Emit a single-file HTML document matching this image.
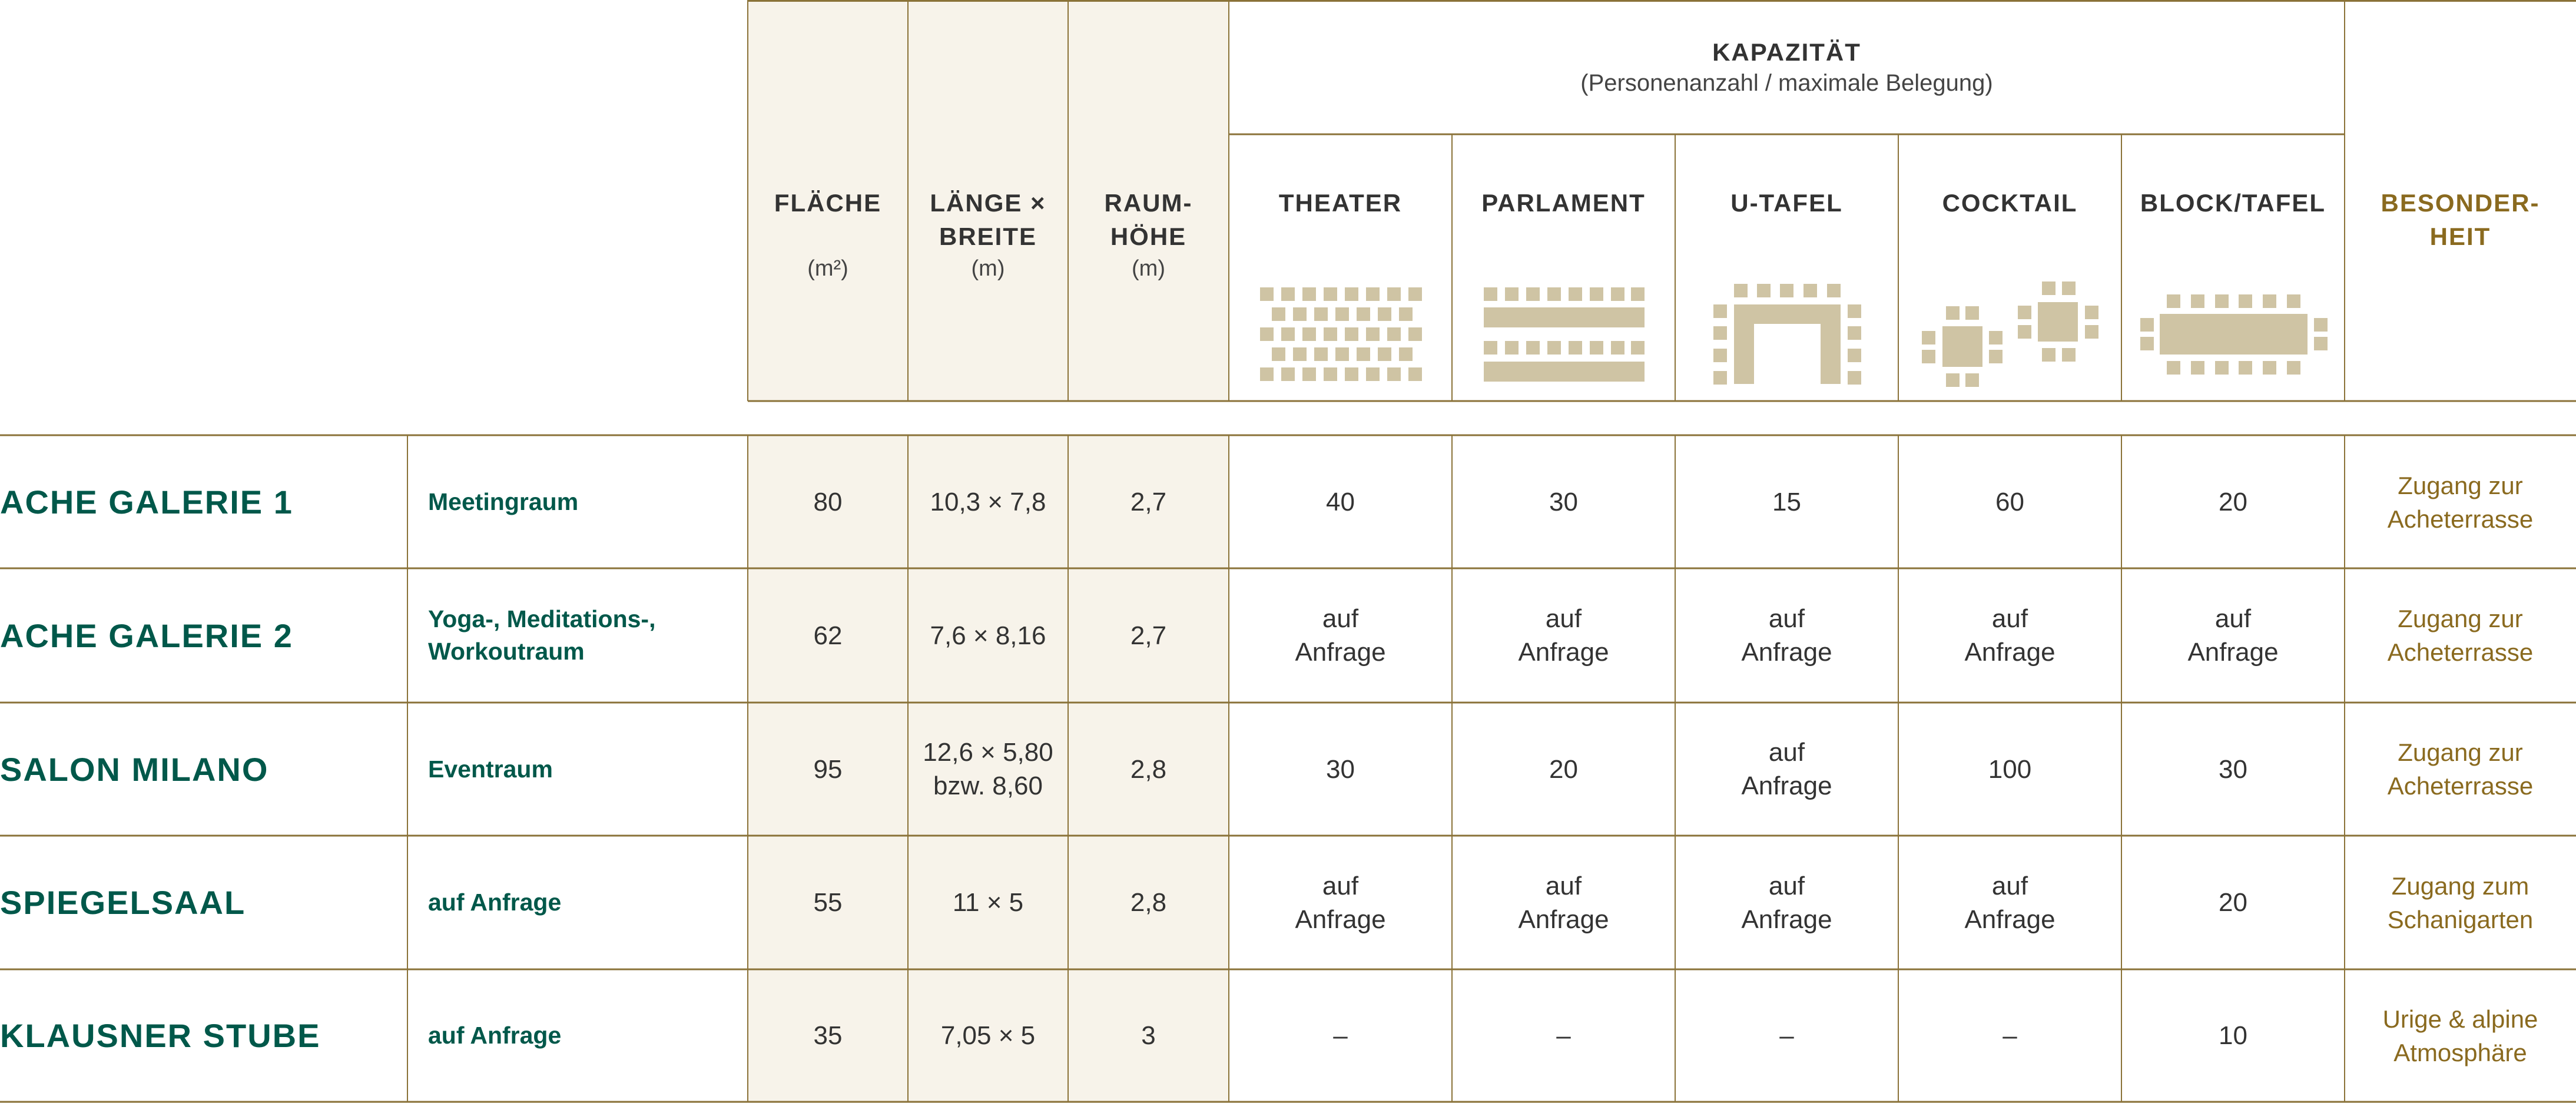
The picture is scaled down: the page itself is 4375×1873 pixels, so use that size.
<!DOCTYPE html>
<html><head><meta charset="utf-8"><style>
body{margin:0;width:4375px;height:1873px;background:#fff;position:relative;overflow:hidden;font-family:"Liberation Sans",sans-serif;}
.a{position:absolute;}
.c{position:absolute;display:flex;flex-direction:column;align-items:center;justify-content:center;text-align:center;}
.h{font-weight:bold;font-size:42px;color:#333;letter-spacing:2px;line-height:57px;}
.u{font-size:38px;color:#444;line-height:57px;}
.v{font-size:44px;color:#333;line-height:57px;}
.g{font-size:42px;color:#8a6a1f;line-height:57px;}
.n{font-weight:bold;font-size:56px;color:#00584a;letter-spacing:2px;}
.d{font-weight:bold;font-size:41px;color:#00584a;line-height:55px;}
</style></head><body>
<svg class="a" style="left:0;top:0" width="4375" height="1873">
<g fill="#f7f3ea">
<rect x="1270" y="0" width="817" height="681"/>
<rect x="1270" y="739" width="817" height="1133"/>
</g>
<g stroke="#8a7238" stroke-width="3" fill="none">
<line x1="1270" y1="1.5" x2="4375" y2="1.5"/>
<line x1="1270" y1="681" x2="4375" y2="681"/>
<line x1="2087" y1="228" x2="3982" y2="228"/>
<line x1="0" y1="739" x2="4375" y2="739"/>
<line x1="0" y1="965" x2="4375" y2="965"/>
<line x1="0" y1="1193" x2="4375" y2="1193"/>
<line x1="0" y1="1419" x2="4375" y2="1419"/>
<line x1="0" y1="1646" x2="4375" y2="1646"/>
<line x1="0" y1="1871" x2="4375" y2="1871"/>
</g>
<g stroke="#8a7238" stroke-width="2">
<line x1="1270" y1="0" x2="1270" y2="681"/><line x1="1542" y1="0" x2="1542" y2="681"/><line x1="1814" y1="0" x2="1814" y2="681"/><line x1="2087" y1="0" x2="2087" y2="681"/>
<line x1="2466" y1="228" x2="2466" y2="681"/><line x1="2845" y1="228" x2="2845" y2="681"/><line x1="3224" y1="228" x2="3224" y2="681"/><line x1="3603" y1="228" x2="3603" y2="681"/><line x1="3982" y1="0" x2="3982" y2="681"/>
<line x1="692" y1="739" x2="692" y2="1872"/><line x1="1270" y1="739" x2="1270" y2="1872"/><line x1="1542" y1="739" x2="1542" y2="1872"/><line x1="1814" y1="739" x2="1814" y2="1872"/><line x1="2087" y1="739" x2="2087" y2="1872"/>
<line x1="2466" y1="739" x2="2466" y2="1872"/><line x1="2845" y1="739" x2="2845" y2="1872"/><line x1="3224" y1="739" x2="3224" y2="1872"/><line x1="3603" y1="739" x2="3603" y2="1872"/><line x1="3982" y1="739" x2="3982" y2="1872"/>
</g>
<g fill="#cfc4a4">
<!-- theater -->
<g id="r8"><rect x="2140" y="488" width="23" height="23"/><rect x="2176" y="488" width="23" height="23"/><rect x="2212" y="488" width="23" height="23"/><rect x="2248" y="488" width="23" height="23"/><rect x="2284" y="488" width="23" height="23"/><rect x="2320" y="488" width="23" height="23"/><rect x="2356" y="488" width="23" height="23"/><rect x="2392" y="488" width="23" height="23"/></g>
<g id="r7"><rect x="2160" y="522" width="23" height="23"/><rect x="2196" y="522" width="23" height="23"/><rect x="2232" y="522" width="23" height="23"/><rect x="2268" y="522" width="23" height="23"/><rect x="2304" y="522" width="23" height="23"/><rect x="2340" y="522" width="23" height="23"/><rect x="2376" y="522" width="23" height="23"/></g>
<use href="#r8" y="68"/><use href="#r7" y="68"/><use href="#r8" y="136"/>
<!-- parlament -->
<g id="p8"><rect x="2520" y="488" width="23" height="23"/><rect x="2556" y="488" width="23" height="23"/><rect x="2592" y="488" width="23" height="23"/><rect x="2628" y="488" width="23" height="23"/><rect x="2664" y="488" width="23" height="23"/><rect x="2700" y="488" width="23" height="23"/><rect x="2736" y="488" width="23" height="23"/><rect x="2770" y="488" width="23" height="23"/></g>
<rect x="2520" y="522" width="273" height="34"/>
<use href="#p8" y="91"/>
<rect x="2520" y="614" width="273" height="34"/>
<!-- u-tafel -->
<rect x="2945" y="482" width="23" height="23"/><rect x="2984" y="482" width="23" height="23"/><rect x="3023" y="482" width="23" height="23"/><rect x="3063" y="482" width="23" height="23"/><rect x="3103" y="482" width="23" height="23"/>
<path d="M2945 517H3126V652H3092V550H2979V652H2945Z"/>
<rect x="2910" y="517" width="23" height="23"/><rect x="2910" y="554" width="23" height="23"/><rect x="2910" y="592" width="23" height="23"/><rect x="2910" y="630" width="23" height="23"/>
<rect x="3138" y="517" width="23" height="23"/><rect x="3138" y="554" width="23" height="23"/><rect x="3138" y="592" width="23" height="23"/><rect x="3138" y="630" width="23" height="23"/>
<!-- cocktail -->
<rect x="3299" y="554" width="68" height="69"/>
<rect x="3305" y="520" width="23" height="23"/><rect x="3338" y="520" width="23" height="23"/>
<rect x="3305" y="634" width="23" height="23"/><rect x="3338" y="634" width="23" height="23"/>
<rect x="3264" y="562" width="23" height="23"/><rect x="3264" y="594" width="23" height="23"/>
<rect x="3378" y="562" width="23" height="23"/><rect x="3378" y="594" width="23" height="23"/>
<rect x="3461" y="513" width="68" height="67"/>
<rect x="3468" y="478" width="23" height="23"/><rect x="3502" y="478" width="23" height="23"/>
<rect x="3468" y="591" width="23" height="23"/><rect x="3502" y="591" width="23" height="23"/>
<rect x="3427" y="519" width="23" height="23"/><rect x="3427" y="552" width="23" height="23"/>
<rect x="3541" y="519" width="23" height="23"/><rect x="3541" y="552" width="23" height="23"/>
<!-- block -->
<rect x="3668" y="533" width="251" height="69"/>
<g id="b6"><rect x="3680" y="500" width="23" height="23"/><rect x="3721" y="500" width="23" height="23"/><rect x="3762" y="500" width="23" height="23"/><rect x="3802" y="500" width="23" height="23"/><rect x="3843" y="500" width="23" height="23"/><rect x="3884" y="500" width="23" height="23"/></g>
<use href="#b6" y="113"/>
<rect x="3635" y="540" width="23" height="23"/><rect x="3635" y="572" width="23" height="23"/>
<rect x="3930" y="540" width="23" height="23"/><rect x="3930" y="572" width="23" height="23"/>
</g>
</svg>

<!-- header text -->
<div class="c h" style="left:1270px;top:316px;width:272px;">FLÄCHE</div>
<div class="c u" style="left:1270px;top:428px;width:272px;">(m²)</div>
<div class="c h" style="left:1542px;top:316px;width:272px;">LÄNGE ×<br>BREITE</div>
<div class="c u" style="left:1542px;top:428px;width:272px;">(m)</div>
<div class="c h" style="left:1814px;top:316px;width:273px;">RAUM-<br>HÖHE</div>
<div class="c u" style="left:1814px;top:428px;width:273px;">(m)</div>
<div class="c h" style="left:2087px;top:60px;width:1895px;">KAPAZITÄT</div>
<div class="c u" style="left:2087px;top:113px;width:1895px;font-size:40px;">(Personenanzahl / maximale Belegung)</div>
<div class="c h" style="left:2087px;top:316px;width:379px;">THEATER</div>
<div class="c h" style="left:2466px;top:316px;width:379px;">PARLAMENT</div>
<div class="c h" style="left:2845px;top:316px;width:379px;">U-TAFEL</div>
<div class="c h" style="left:3224px;top:316px;width:379px;">COCKTAIL</div>
<div class="c h" style="left:3603px;top:316px;width:379px;">BLOCK/TAFEL</div>
<div class="c h" style="left:3982px;top:316px;width:393px;color:#8a6a1f;">BESONDER-<br>HEIT</div>

<!-- rows -->
<div class="a" style="left:0;top:739px;width:4375px;height:227px;">
 <div class="c n" style="left:0;top:0;height:227px;align-items:flex-start;">ACHE GALERIE 1</div>
 <div class="c d" style="left:727px;top:0;height:227px;align-items:flex-start;text-align:left;">Meetingraum</div>
 <div class="c v" style="left:1270px;width:272px;height:227px;">80</div>
 <div class="c v" style="left:1542px;width:272px;height:227px;">10,3 × 7,8</div>
 <div class="c v" style="left:1814px;width:273px;height:227px;">2,7</div>
 <div class="c v" style="left:2087px;width:379px;height:227px;">40</div>
 <div class="c v" style="left:2466px;width:379px;height:227px;">30</div>
 <div class="c v" style="left:2845px;width:379px;height:227px;">15</div>
 <div class="c v" style="left:3224px;width:379px;height:227px;">60</div>
 <div class="c v" style="left:3603px;width:379px;height:227px;">20</div>
 <div class="c g" style="left:3982px;width:393px;height:227px;">Zugang zur<br>Acheterrasse</div>
</div>
<div class="a" style="left:0;top:965px;width:4375px;height:228px;">
 <div class="c n" style="left:0;top:0;height:228px;align-items:flex-start;">ACHE GALERIE 2</div>
 <div class="c d" style="left:727px;top:0;height:228px;align-items:flex-start;text-align:left;">Yoga-, Meditations-,<br>Workoutraum</div>
 <div class="c v" style="left:1270px;width:272px;height:228px;">62</div>
 <div class="c v" style="left:1542px;width:272px;height:228px;">7,6 × 8,16</div>
 <div class="c v" style="left:1814px;width:273px;height:228px;">2,7</div>
 <div class="c v" style="left:2087px;width:379px;height:228px;">auf<br>Anfrage</div>
 <div class="c v" style="left:2466px;width:379px;height:228px;">auf<br>Anfrage</div>
 <div class="c v" style="left:2845px;width:379px;height:228px;">auf<br>Anfrage</div>
 <div class="c v" style="left:3224px;width:379px;height:228px;">auf<br>Anfrage</div>
 <div class="c v" style="left:3603px;width:379px;height:228px;">auf<br>Anfrage</div>
 <div class="c g" style="left:3982px;width:393px;height:228px;">Zugang zur<br>Acheterrasse</div>
</div>
<div class="a" style="left:0;top:1193px;width:4375px;height:226px;">
 <div class="c n" style="left:0;top:0;height:226px;align-items:flex-start;">SALON MILANO</div>
 <div class="c d" style="left:727px;top:0;height:226px;align-items:flex-start;text-align:left;">Eventraum</div>
 <div class="c v" style="left:1270px;width:272px;height:226px;">95</div>
 <div class="c v" style="left:1542px;width:272px;height:226px;">12,6 × 5,80<br>bzw. 8,60</div>
 <div class="c v" style="left:1814px;width:273px;height:226px;">2,8</div>
 <div class="c v" style="left:2087px;width:379px;height:226px;">30</div>
 <div class="c v" style="left:2466px;width:379px;height:226px;">20</div>
 <div class="c v" style="left:2845px;width:379px;height:226px;">auf<br>Anfrage</div>
 <div class="c v" style="left:3224px;width:379px;height:226px;">100</div>
 <div class="c v" style="left:3603px;width:379px;height:226px;">30</div>
 <div class="c g" style="left:3982px;width:393px;height:226px;">Zugang zur<br>Acheterrasse</div>
</div>
<div class="a" style="left:0;top:1419px;width:4375px;height:227px;">
 <div class="c n" style="left:0;top:0;height:227px;align-items:flex-start;">SPIEGELSAAL</div>
 <div class="c d" style="left:727px;top:0;height:227px;align-items:flex-start;text-align:left;">auf Anfrage</div>
 <div class="c v" style="left:1270px;width:272px;height:227px;">55</div>
 <div class="c v" style="left:1542px;width:272px;height:227px;">11 × 5</div>
 <div class="c v" style="left:1814px;width:273px;height:227px;">2,8</div>
 <div class="c v" style="left:2087px;width:379px;height:227px;">auf<br>Anfrage</div>
 <div class="c v" style="left:2466px;width:379px;height:227px;">auf<br>Anfrage</div>
 <div class="c v" style="left:2845px;width:379px;height:227px;">auf<br>Anfrage</div>
 <div class="c v" style="left:3224px;width:379px;height:227px;">auf<br>Anfrage</div>
 <div class="c v" style="left:3603px;width:379px;height:227px;">20</div>
 <div class="c g" style="left:3982px;width:393px;height:227px;">Zugang zum<br>Schanigarten</div>
</div>
<div class="a" style="left:0;top:1646px;width:4375px;height:225px;">
 <div class="c n" style="left:0;top:0;height:225px;align-items:flex-start;">KLAUSNER STUBE</div>
 <div class="c d" style="left:727px;top:0;height:225px;align-items:flex-start;text-align:left;">auf Anfrage</div>
 <div class="c v" style="left:1270px;width:272px;height:225px;">35</div>
 <div class="c v" style="left:1542px;width:272px;height:225px;">7,05 × 5</div>
 <div class="c v" style="left:1814px;width:273px;height:225px;">3</div>
 <div class="c v" style="left:2087px;width:379px;height:225px;">–</div>
 <div class="c v" style="left:2466px;width:379px;height:225px;">–</div>
 <div class="c v" style="left:2845px;width:379px;height:225px;">–</div>
 <div class="c v" style="left:3224px;width:379px;height:225px;">–</div>
 <div class="c v" style="left:3603px;width:379px;height:225px;">10</div>
 <div class="c g" style="left:3982px;width:393px;height:225px;">Urige &amp; alpine<br>Atmosphäre</div>
</div>
</body></html>
